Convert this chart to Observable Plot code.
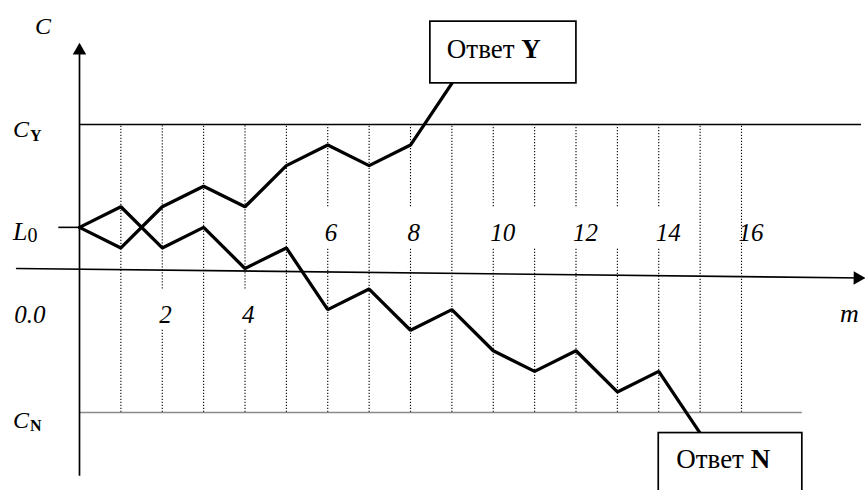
<!DOCTYPE html>
<html><head><meta charset="utf-8">
<script src="https://cdn.jsdelivr.net/npm/d3@7"></script>
<script src="https://cdn.jsdelivr.net/npm/@observablehq/plot@0.6"></script>
<style>
html,body{margin:0;padding:0;background:#fff;}
#chart{width:865px;height:490px;overflow:hidden;}
#chart svg text{font-family:"Liberation Serif",serif;}
</style></head><body><div id="chart"></div>
<script>
// ---- data ----
const stepsY = [0, 1, 2, 3, 4, 5, 6, 7, 8, 9];
const walkY  = [2, 1, 3, 4, 3, 5, 6, 5, 6, 9];
const stepsN = [0, 1, 2, 3, 4, 5, 6, 7, 8, 9, 10, 11, 12, 13, 14, 15];
const walkN  = [2, 3, 1, 2, 0, 1, -2, -1, -3, -2, -4, -5, -4, -6, -5, -8];
const L0 = 2, CY = 7, CN = -7;
const gridM = [1, 2, 3, 4, 5, 6, 7, 8, 9, 10, 11, 12, 13, 14, 15, 16];
const ticksAbove = [6, 8, 10, 12, 14, 16];
const ticksBelow = [2, 4];
const zeroLabel = "0.0";
const gapAbove = [6, 8, 10, 11, 12, 13, 14];
const gapBelow = [2, 4];
const answerY = {text: "Ответ ", bold: "Y"};
const answerN = {text: "Ответ ", bold: "N"};

// ---- layout helpers (data units) ----
const rowAbove = 1.36, rowBelow = -2.63;
const gapAboveSpan = [1, 3], gapBelowSpan = [-3, -1];
const segs = [];
for (const m of gridM) {
  if (gapAbove.includes(m)) { segs.push({m, a: CN, b: gapAboveSpan[0]}, {m, a: gapAboveSpan[1], b: CY}); }
  else if (gapBelow.includes(m)) { segs.push({m, a: CN, b: gapBelowSpan[0]}, {m, a: gapBelowSpan[1], b: CY}); }
  else segs.push({m, a: CN, b: CY});
}
const pathY = stepsY.map((m, i) => ({m, c: walkY[i]}));
const pathN = stepsN.map((m, i) => ({m, c: walkN[i]}));
const xAxisLine = [{m: -1.52, c: 0}, {m: 18.95, c: -0.46}];
const yAxisTop = 10.97, yAxisBottom = -10.1;
const boxY = {x1: 8.48, x2: 12.01, y1: 9, y2: 12};
const boxN = {x1: 14.0, x2: 17.47, y1: -8, y2: -11};
const serif = "Liberation Serif";

const plot = Plot.plot({
  width: 865, height: 490,
  marginLeft: 79, marginRight: 124, marginTop: 124, marginBottom: 78,
  x: {domain: [0, 16], axis: null},
  y: {domain: [-7, 7], axis: null},
  style: {fontFamily: serif, background: "white", color: "black"},
  marks: [
    Plot.ruleX(segs, {x: "m", y1: "a", y2: "b", stroke: "#000", strokeWidth: 1.1, strokeDasharray: "1.2,1.8"}),
    Plot.ruleY([CY], {x1: 0, x2: 18.9, stroke: "#000", strokeWidth: 1.6}),
    Plot.ruleY([CN], {x1: 0, x2: boxN.x2, stroke: "#8a8a8a", strokeWidth: 1.3}),
    Plot.ruleY([L0], {x1: -0.5, x2: 0, stroke: "#000", strokeWidth: 1.6}),
    Plot.ruleX([0], {y1: yAxisBottom, y2: yAxisTop - 0.5, stroke: "#000", strokeWidth: 1.7}),
    Plot.dot([{m: 0, c: yAxisTop}], {x: "m", y: "c", symbol: "triangle", r: 5, fill: "#000", stroke: null, dy: 7.8}),
    Plot.line(xAxisLine, {x: "m", y: "c", stroke: "#000", strokeWidth: 1.6}),
    Plot.dot([xAxisLine[1]], {x: "m", y: "c", symbol: "triangle", r: 5, rotate: 90.7, fill: "#000", stroke: null, dx: -6}),
    Plot.line(pathY, {x: "m", y: "c", stroke: "#000", strokeWidth: 3.3, strokeLinejoin: "miter"}),
    Plot.line(pathN, {x: "m", y: "c", stroke: "#000", strokeWidth: 3.3, strokeLinejoin: "miter"}),
    Plot.rect([boxY, boxN], {x1: "x1", x2: "x2", y1: "y1", y2: "y2", fill: "white", stroke: "#000", strokeWidth: 1.7}),
    Plot.text(ticksAbove, {x: d => d, y: rowAbove, text: d => String(d), fontFamily: serif, fontSize: 25, fontStyle: "italic", textAnchor: "start", lineAnchor: "bottom", dx: -3}),
    Plot.text(ticksBelow, {x: d => d, y: rowBelow, text: d => String(d), fontFamily: serif, fontSize: 25, fontStyle: "italic", textAnchor: "start", lineAnchor: "bottom", dx: -3}),
    Plot.text([zeroLabel], {x: 0, y: rowBelow, text: d => d, fontFamily: serif, fontSize: 25, fontStyle: "italic", textAnchor: "end", lineAnchor: "bottom", dx: -34})
  ]
});
document.getElementById("chart").appendChild(plot);

// ---- labels with sub/bold parts, placed through the plot's scales ----
const sx = plot.scale("x"), sy = plot.scale("y");
const X = v => sx.apply(v), Y = v => sy.apply(v);
const svg = d3.select(plot);
const g = svg.append("g").attr("font-family", serif).attr("fill", "#000").attr("text-anchor", "start");

function label(x, y, parts) {
  const t = g.append("text").attr("x", x).attr("y", y).attr("text-anchor", "start");
  for (const p of parts) {
    const s = t.append("tspan").text(p.t).attr("font-size", p.size);
    if (p.italic) s.attr("font-style", "italic");
    if (p.bold) s.attr("font-weight", "bold");
    if (p.dy) s.attr("dy", p.dy);
    if (p.dx) s.attr("dx", p.dx);
  }
}
// axis titles
label(X(0) - 44, Y(CY) - 90, [{t: "C", size: 24, italic: true}]);
label(X(16) + 99, Y(rowBelow), [{t: "m", size: 26, italic: true}]);
label(X(0) - 66, Y(CY) + 13, [{t: "C", size: 24, italic: true}, {t: "Y", size: 16, bold: true, dy: 4, dx: 1}]);
label(X(0) - 66, Y(L0) + 13, [{t: "L", size: 26, italic: true}, {t: "0", size: 20, dy: 2}]);
label(X(0) - 66, Y(CN) + 16, [{t: "C", size: 24, italic: true}, {t: "N", size: 16, bold: true, dy: 3, dx: 1}]);
// answer boxes
label(X(boxY.x1) + 17, Y(boxY.y2) + 37, [{t: answerY.text, size: 27}, {t: answerY.bold, size: 27, bold: true}]);
label(X(boxN.x1) + 18, Y(boxN.y1) + 35, [{t: answerN.text, size: 27}, {t: answerN.bold, size: 27, bold: true}]);
</script></body></html>
